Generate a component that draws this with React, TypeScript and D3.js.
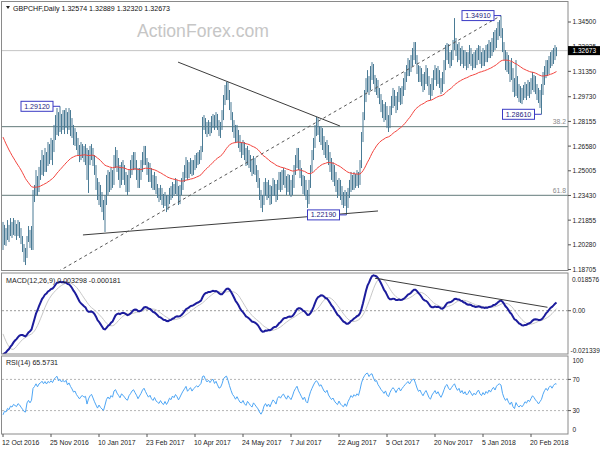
import React from "react";
import * as d3 from "d3";

// ---------- data (GBPCHF daily bars) ----------
const closes = [
1.2059,1.2110,1.2084,1.2135,1.2097,1.2148,1.2123,1.2161,1.2135,1.2110,
1.2148,1.2123,1.2072,1.2021,1.1963,1.1944,1.2059,1.2097,1.2046,1.2084,
1.2314,1.2365,1.2442,1.2391,1.2474,1.2505,1.2556,1.2518,1.2582,1.2544,
1.2620,1.2601,1.2659,1.2633,1.2729,1.2793,1.2837,1.2773,1.2824,1.2786,
1.2837,1.2812,1.2863,1.2799,1.2850,1.2799,1.2761,1.2710,1.2729,1.2671,
1.2633,1.2595,1.2633,1.2646,1.2620,1.2633,1.2493,1.2569,1.2620,1.2646,
1.2582,1.2505,1.2429,1.2346,1.2391,1.2327,1.2282,1.2237,1.2314,1.2410,
1.2454,1.2410,1.2474,1.2442,1.2569,1.2601,1.2537,1.2493,1.2442,1.2518,
1.2493,1.2454,1.2410,1.2391,1.2467,1.2505,1.2556,1.2582,1.2537,1.2493,
1.2429,1.2474,1.2518,1.2582,1.2620,1.2569,1.2518,1.2474,1.2505,1.2442,
1.2410,1.2454,1.2391,1.2365,1.2340,1.2378,1.2327,1.2301,1.2340,1.2282,
1.2314,1.2365,1.2340,1.2391,1.2365,1.2410,1.2378,1.2327,1.2365,1.2410,
1.2454,1.2493,1.2537,1.2474,1.2505,1.2537,1.2493,1.2531,1.2556,1.2582,
1.2569,1.2601,1.2633,1.2793,1.2812,1.2773,1.2748,1.2786,1.2761,1.2812,
1.2837,1.2793,1.2837,1.2799,1.2761,1.2773,1.2837,1.2952,1.3003,1.3029,
1.2984,1.2920,1.2856,1.2793,1.2761,1.2710,1.2748,1.2697,1.2646,1.2633,
1.2665,1.2601,1.2569,1.2620,1.2582,1.2537,1.2505,1.2556,1.2518,1.2474,
1.2429,1.2346,1.2282,1.2314,1.2378,1.2410,1.2346,1.2378,1.2314,1.2365,
1.2410,1.2378,1.2327,1.2410,1.2442,1.2410,1.2454,1.2474,1.2429,1.2391,
1.2442,1.2410,1.2378,1.2429,1.2505,1.2556,1.2601,1.2537,1.2493,1.2442,
1.2391,1.2429,1.2346,1.2314,1.2410,1.2505,1.2582,1.2665,1.2748,1.2793,
1.2761,1.2710,1.2748,1.2697,1.2646,1.2620,1.2665,1.2582,1.2537,1.2493,
1.2518,1.2454,1.2410,1.2378,1.2429,1.2365,1.2327,1.2301,1.2340,1.2282,
1.2346,1.2391,1.2442,1.2410,1.2454,1.2429,1.2467,1.2442,1.2537,1.2697,
1.2837,1.2952,1.3048,1.3080,1.3029,1.3131,1.3156,1.3092,1.3041,1.3067,
1.3003,1.2965,1.2920,1.2888,1.2850,1.2901,1.2824,1.2793,1.2875,1.2939,
1.2984,1.2952,1.2901,1.2965,1.3003,1.2952,1.3003,1.3048,1.3092,1.3131,
1.3175,1.3143,1.3207,1.3258,1.3271,1.3220,1.3156,1.3105,1.3131,1.3080,
1.3041,1.3092,1.3131,1.3080,1.3016,1.2990,1.3054,1.3092,1.3131,1.3080,
1.3118,1.3067,1.3029,1.3080,1.3156,1.3239,1.3271,1.3220,1.3194,1.3239,
1.3284,1.3322,1.3271,1.3233,1.3271,1.3207,1.3246,1.3194,1.3233,1.3182,
1.3207,1.3258,1.3220,1.3182,1.3220,1.3194,1.3239,1.3271,1.3220,1.3194,
1.3239,1.3207,1.3258,1.3233,1.3284,1.3258,1.3303,1.3335,1.3303,1.3367,
1.3399,1.3411,1.3399,1.3303,1.3239,1.3194,1.3220,1.3156,1.3112,1.3143,
1.3048,1.3003,1.3080,1.3016,1.2978,1.3003,1.2965,1.2990,1.3029,1.3003,
1.3041,1.3016,1.3054,1.3092,1.3067,1.3029,1.3003,1.2965,1.2990,1.3016,
1.3080,1.3131,1.3169,1.3143,1.3194,1.3220,1.3194,1.3239,1.3271,1.3267
];

const highs = [
1.2174,1.2155,1.2135,1.2186,1.2155,1.2199,1.2174,1.2199,1.2186,1.2161,
1.2186,1.2174,1.2135,1.2084,1.2033,1.2008,1.2084,1.2148,1.2123,1.2148,
1.2378,1.2410,1.2505,1.2467,1.2525,1.2569,1.2633,1.2601,1.2646,1.2620,
1.2684,1.2671,1.2710,1.2697,1.2793,1.2856,1.2901,1.2875,1.2912,1.2863,
1.2888,1.2888,1.2901,1.2875,1.2901,1.2888,1.2837,1.2793,1.2773,1.2748,
1.2710,1.2665,1.2684,1.2671,1.2659,1.2671,1.2646,1.2633,1.2659,1.2671,
1.2646,1.2601,1.2537,1.2454,1.2429,1.2410,1.2365,1.2314,1.2346,1.2474,
1.2505,1.2493,1.2518,1.2505,1.2601,1.2652,1.2633,1.2582,1.2537,1.2556,
1.2569,1.2537,1.2493,1.2474,1.2505,1.2569,1.2601,1.2620,1.2620,1.2569,
1.2518,1.2518,1.2569,1.2620,1.2659,1.2659,1.2582,1.2556,1.2550,1.2518,
1.2474,1.2493,1.2467,1.2416,1.2391,1.2410,1.2391,1.2352,1.2365,1.2346,
1.2346,1.2391,1.2403,1.2429,1.2416,1.2454,1.2442,1.2403,1.2410,1.2454,
1.2493,1.2537,1.2588,1.2569,1.2556,1.2582,1.2569,1.2569,1.2601,1.2614,
1.2620,1.2633,1.2659,1.2844,1.2856,1.2837,1.2812,1.2824,1.2812,1.2850,
1.2863,1.2856,1.2875,1.2863,1.2824,1.2812,1.2888,1.2984,1.3048,1.3067,
1.3067,1.3016,1.2939,1.2875,1.2824,1.2793,1.2793,1.2761,1.2729,1.2684,
1.2697,1.2684,1.2646,1.2659,1.2633,1.2601,1.2569,1.2595,1.2582,1.2537,
1.2505,1.2454,1.2378,1.2346,1.2429,1.2454,1.2429,1.2442,1.2410,1.2403,
1.2454,1.2442,1.2416,1.2442,1.2493,1.2493,1.2505,1.2518,1.2505,1.2467,
1.2480,1.2474,1.2442,1.2474,1.2537,1.2601,1.2646,1.2646,1.2569,1.2518,
1.2474,1.2467,1.2442,1.2378,1.2442,1.2537,1.2633,1.2710,1.2793,1.2844,
1.2837,1.2786,1.2786,1.2773,1.2722,1.2684,1.2697,1.2665,1.2620,1.2582,
1.2556,1.2537,1.2493,1.2442,1.2454,1.2442,1.2403,1.2365,1.2378,1.2365,
1.2391,1.2442,1.2493,1.2474,1.2493,1.2480,1.2505,1.2493,1.2569,1.2748,
1.2875,1.3016,1.3092,1.3143,1.3105,1.3169,1.3194,1.3182,1.3112,1.3092,
1.3080,1.3029,1.2990,1.2952,1.2926,1.2939,1.2914,1.2856,1.2914,1.2978,
1.3029,1.3016,1.2978,1.3003,1.3041,1.3029,1.3041,1.3092,1.3131,1.3175,
1.3220,1.3207,1.3239,1.3284,1.3322,1.3322,1.3239,1.3175,1.3169,1.3156,
1.3118,1.3131,1.3175,1.3156,1.3105,1.3054,1.3092,1.3143,1.3175,1.3156,
1.3169,1.3143,1.3092,1.3131,1.3207,1.3303,1.3316,1.3309,1.3258,1.3271,
1.3335,1.3475,1.3348,1.3309,1.3322,1.3284,1.3297,1.3271,1.3271,1.3258,
1.3258,1.3303,1.3284,1.3246,1.3258,1.3271,1.3284,1.3303,1.3297,1.3258,
1.3284,1.3271,1.3303,1.3309,1.3335,1.3322,1.3348,1.3386,1.3399,1.3411,
1.3450,1.3462,1.3491,1.3411,1.3322,1.3271,1.3258,1.3239,1.3194,1.3220,
1.3156,1.3092,1.3207,1.3105,1.3054,1.3041,1.3029,1.3048,1.3067,1.3054,
1.3080,1.3067,1.3092,1.3131,1.3112,1.3105,1.3054,1.3029,1.3016,1.3054,
1.3131,1.3169,1.3207,1.3207,1.3233,1.3258,1.3271,1.3284,1.3303,1.3289
];

const lows = [
1.1995,1.2027,1.2021,1.2059,1.2046,1.2084,1.2072,1.2091,1.2084,1.2059,
1.2084,1.2072,1.2033,1.1982,1.1918,1.1899,1.1944,1.2046,1.2008,1.1995,
1.1995,1.2301,1.2346,1.2340,1.2365,1.2442,1.2474,1.2467,1.2493,1.2493,
1.2531,1.2544,1.2569,1.2537,1.2620,1.2697,1.2729,1.2722,1.2748,1.2735,
1.2761,1.2735,1.2773,1.2735,1.2761,1.2722,1.2710,1.2665,1.2659,1.2633,
1.2595,1.2556,1.2569,1.2582,1.2556,1.2537,1.2442,1.2359,1.2537,1.2569,
1.2531,1.2474,1.2378,1.2314,1.2282,1.2269,1.2237,1.2186,1.2110,1.2282,
1.2346,1.2365,1.2378,1.2391,1.2410,1.2518,1.2493,1.2442,1.2391,1.2410,
1.2442,1.2410,1.2365,1.2346,1.2365,1.2454,1.2474,1.2505,1.2505,1.2442,
1.2391,1.2391,1.2442,1.2493,1.2537,1.2537,1.2474,1.2429,1.2429,1.2391,
1.2378,1.2378,1.2352,1.2327,1.2301,1.2314,1.2282,1.2263,1.2276,1.2237,
1.2250,1.2288,1.2314,1.2327,1.2340,1.2352,1.2340,1.2282,1.2288,1.2346,
1.2378,1.2429,1.2454,1.2442,1.2454,1.2480,1.2467,1.2474,1.2505,1.2518,
1.2537,1.2544,1.2569,1.2620,1.2761,1.2735,1.2716,1.2735,1.2722,1.2741,
1.2773,1.2761,1.2773,1.2761,1.2722,1.2710,1.2761,1.2824,1.2920,1.2952,
1.2952,1.2888,1.2824,1.2748,1.2710,1.2678,1.2684,1.2646,1.2620,1.2582,
1.2601,1.2569,1.2531,1.2537,1.2518,1.2493,1.2467,1.2480,1.2474,1.2429,
1.2391,1.2314,1.2263,1.2237,1.2282,1.2340,1.2314,1.2327,1.2282,1.2288,
1.2340,1.2340,1.2301,1.2314,1.2378,1.2365,1.2378,1.2410,1.2391,1.2346,
1.2365,1.2346,1.2333,1.2346,1.2391,1.2474,1.2518,1.2505,1.2454,1.2403,
1.2352,1.2340,1.2314,1.2263,1.2288,1.2391,1.2493,1.2569,1.2646,1.2722,
1.2729,1.2684,1.2665,1.2633,1.2601,1.2582,1.2569,1.2537,1.2493,1.2442,
1.2429,1.2403,1.2365,1.2327,1.2346,1.2314,1.2282,1.2263,1.2276,1.2219,
1.2263,1.2327,1.2365,1.2378,1.2378,1.2391,1.2403,1.2391,1.2410,1.2518,
1.2684,1.2824,1.2939,1.3003,1.2984,1.3016,1.3080,1.3054,1.3003,1.2984,
1.2965,1.2926,1.2875,1.2837,1.2812,1.2824,1.2773,1.2748,1.2773,1.2856,
1.2901,1.2914,1.2869,1.2888,1.2939,1.2920,1.2926,1.2978,1.3016,1.3067,
1.3105,1.3105,1.3131,1.3169,1.3207,1.3182,1.3118,1.3067,1.3067,1.3041,
1.3003,1.3016,1.3054,1.3041,1.2984,1.2952,1.2978,1.3016,1.3080,1.3041,
1.3054,1.3029,1.2990,1.3003,1.3054,1.3143,1.3207,1.3182,1.3156,1.3169,
1.3207,1.3271,1.3233,1.3194,1.3207,1.3169,1.3182,1.3156,1.3169,1.3143,
1.3156,1.3182,1.3169,1.3143,1.3156,1.3156,1.3175,1.3207,1.3182,1.3156,
1.3169,1.3169,1.3194,1.3194,1.3220,1.3220,1.3233,1.3258,1.3271,1.3284,
1.3335,1.3360,1.3348,1.3258,1.3207,1.3143,1.3131,1.3118,1.3067,1.3080,
1.3003,1.2971,1.2978,1.2965,1.2939,1.2933,1.2926,1.2952,1.2965,1.2952,
1.2978,1.2965,1.2990,1.3016,1.3003,1.2990,1.2952,1.2933,1.2901,1.2861,
1.2984,1.3048,1.3092,1.3105,1.3118,1.3156,1.3169,1.3182,1.3207,1.3232
];

// indicator states before the first visible bar (estimated from the starting levels)
const ema55Seed = 1.2740;
const ema12Seed = 1.2280;
const ema26Seed = 1.2493;
const macdPrior = [-0.0040, -0.0050, -0.0062, -0.0080, -0.0100, -0.0128, -0.0160, -0.0195];
const rsiSeedGain = 0.0016;
const rsiSeedLoss = 0.0046;
const rsiSeedPrevClose = 1.2100;

const dateTickIndex = [0, 32, 64, 96, 128, 160, 192, 224, 256, 288, 320, 352];
const dateLabels = ["12 Oct 2016", "25 Nov 2016", "10 Jan 2017", "23 Feb 2017", "10 Apr 2017", "24 May 2017",
  "7 Jul 2017", "22 Aug 2017", "5 Oct 2017", "20 Nov 2017", "5 Jan 2018", "20 Feb 2018"];

const priceTicks = [1.345, 1.32925, 1.3135, 1.2973, 1.28155, 1.2658, 1.25005, 1.2343, 1.21855, 1.2028, 1.18705];
const macdTop = 0.018576;
const macdBottom = -0.021339;
const rsiLevels = [70, 30];
const rsiTickLabels = [100, 70, 30, 0];

const lastPrice = 1.32673;
const titleValues = ["1.32574", "1.32889", "1.32320", "1.32673"];

const pivotLabels = [
  { i: 38, price: 1.2912 },
  { i: 229, price: 1.2219 },
  { i: 332, price: 1.3491 },
  { i: 359, price: 1.2861 },
];
const fibHigh = 1.3491;
const fibLow = 1.1635;
const fibLevels = [0.382, 0.618];
const trendResistance: [number, number][] = [[116.7, 1.3194], [224.7, 1.2786]];
const trendSupport: [number, number][] = [[53.3, 1.2091], [250, 1.2244]];
const trendDashed: [number, number][] = [[30, 1.1820], [332, 1.3491]];
const macdTrend: [number, number][] = [[248, 0.0160], [363, 0.00168]];

// ---------- helpers ----------
function emaSeries(vals: number[], period: number, seed: number) {
  const k = 2 / (period + 1);
  let e = seed;
  return vals.map((v) => (e = e + (v - e) * k));
}

const FONT = "'Liberation Sans', Arial, sans-serif";

export default function App() {
  const n = closes.length;
  const X0 = 3;
  const AX = 568;
  const x = d3.scaleLinear().domain([0, n - 1]).range([X0, X0 + 1.5 * (n - 1)]);
  const yP = d3.scaleLinear().domain([1.18705, 1.345]).range([269.5, 22]);
  const yM = d3.scaleLinear().domain([macdBottom, macdTop]).range([354, 273]);
  const yR = d3.scaleLinear().domain([0, 100]).range([434, 356]);

  const ma55 = emaSeries(closes, 55, ema55Seed);
  const e12 = emaSeries(closes, 12, ema12Seed);
  const e26 = emaSeries(closes, 26, ema26Seed);
  const macd = closes.map((_, i) => e12[i] - e26[i]);
  const macdAll = [...macdPrior, ...macd];
  const signal = macd.map((_, i) => d3.mean(macdAll.slice(i, i + 9)) as number);
  let ag = rsiSeedGain, al = rsiSeedLoss, prev = rsiSeedPrevClose;
  const rsi = closes.map((c) => {
    const ch = c - prev;
    prev = c;
    ag = (ag * 13 + Math.max(ch, 0)) / 14;
    al = (al * 13 + Math.max(-ch, 0)) / 14;
    return al === 0 ? 100 : 100 - 100 / (1 + ag / al);
  });

  const lineOf = (yS: d3.ScaleLinear<number, number>) =>
    d3.line<number>().x((_, i) => x(i)).y((d) => yS(d));

  const segPath = (pts: [number, number][], yS: d3.ScaleLinear<number, number>) =>
    d3.line<[number, number]>().x((d) => x(d[0])).y((d) => yS(d[1]))(pts) as string;

  const txt = { fontFamily: FONT, fontSize: 7.1, fill: "#222" } as const;
  const axisTxt = { fontFamily: FONT, fontSize: 6.5, fill: "#222" } as const;
  const dateTxt = { fontFamily: FONT, fontSize: 6.85, fill: "#222" } as const;
  const borderColor = "#8a8a8a";

  return (
    <svg width={600} height={450} style={{ position: "absolute", left: 0, top: 0, background: "#fff" }}>
      <defs>
        <clipPath id="cMain"><rect x={2} y={2} width={AX - 2} height={268.5} /></clipPath>
        <clipPath id="cMacd"><rect x={2} y={273} width={AX - 2} height={81} /></clipPath>
        <clipPath id="cRsi"><rect x={2} y={356} width={AX - 2} height={78} /></clipPath>
      </defs>
      <rect x={0} y={0} width={600} height={450} fill="#fff" />

      {/* ---------- main panel ---------- */}
      <text x={137} y={37.3} fontFamily={FONT} fontSize={17.6} fill="#c6c6c6">ActionForex.com</text>
      <g clipPath="url(#cMain)">
        {/* current price line */}
        <line x1={2} x2={AX} y1={yP(lastPrice)} y2={yP(lastPrice)} stroke="#c4c4c4" />
        {/* fibonacci levels */}
        {fibLevels.map((lv) => {
          const p = fibHigh - lv * (fibHigh - fibLow);
          return (
            <g key={lv}>
              <line x1={2} x2={AX} y1={yP(p)} y2={yP(p)} stroke="#637b7b" />
              <text x={566} y={yP(p) - 2.5} textAnchor="end" fontFamily={FONT} fontSize={6.8} fill="#8a8a8a">{(lv * 100).toFixed(1)}</text>
            </g>
          );
        })}
        {/* bars */}
        {closes.map((_, i) => (
          <line key={i} x1={x(i)} x2={x(i)} y1={yP(highs[i])} y2={yP(lows[i])} stroke="#4a7b95" strokeWidth={1} />
        ))}
        {/* EMA */}
        <path d={lineOf(yP)(ma55) as string} fill="none" stroke="#f2453f" strokeWidth={1} />
        {/* trendlines */}
        <path d={segPath(trendResistance, yP)} stroke="#3c3c3c" fill="none" />
        <path d={segPath(trendSupport, yP)} stroke="#3c3c3c" fill="none" />
        <path d={segPath(trendDashed, yP)} stroke="#555" strokeDasharray="3,3" fill="none" />
        {/* pivot labels */}
        {pivotLabels.map((p) => {
          const px = x(p.i);
          const py = yP(p.price);
          return (
            <g key={p.i}>
              <line x1={px - 7} x2={px} y1={py} y2={py} stroke="#3b3bc4" />
              <rect x={px - 39} y={py - 5} width={32} height={10} fill="#fff" stroke="#3b3bc4" />
              <text x={px - 23} y={py + 2.6} textAnchor="middle" fontFamily={FONT} fontSize={7.1} fill="#1c1c80">{p.price.toFixed(5)}</text>
            </g>
          );
        })}
      </g>
      <rect x={1.5} y={1.5} width={AX - 1.5} height={269} fill="none" stroke={borderColor} />
      {/* title */}
      <path d="M6,6 L10,6 L8,9 Z" fill="#222" />
      <text x={13} y={10.5} {...txt} fill="#111">{`GBPCHF,Daily  ${titleValues.join(" ")}`}</text>
      {/* price axis */}
      {priceTicks.map((v) => (
        <g key={v}>
          <line x1={AX} x2={AX + 3} y1={yP(v)} y2={yP(v)} stroke="#555" />
          <text x={AX + 4.5} y={yP(v) + 2.4} {...axisTxt}>{v.toFixed(5)}</text>
        </g>
      ))}
      <rect x={AX} y={yP(lastPrice) - 4.5} width={32} height={9} fill="#000" />
      <text x={AX + 4.5} y={yP(lastPrice) + 2.4} {...axisTxt} fill="#fff">{lastPrice.toFixed(5)}</text>

      {/* ---------- MACD panel ---------- */}
      <g clipPath="url(#cMacd)">
        <line x1={2} x2={AX} y1={yM(0)} y2={yM(0)} stroke="#9a9a9a" strokeDasharray="2,2" />
        <path d={lineOf(yM)(signal) as string} fill="none" stroke="#c8c8c8" strokeWidth={1} />
        <path d={lineOf(yM)(macd) as string} fill="none" stroke="#1c1c9c" strokeWidth={2} />
        <path d={segPath(macdTrend, yM)} stroke="#3c3c3c" fill="none" />
      </g>
      <rect x={1.5} y={273} width={AX - 1.5} height={81} fill="none" stroke={borderColor} />
      <text x={6} y={282.5} {...txt}>MACD(12,26,9) 0.003298 -0.000181</text>
      <line x1={AX} x2={AX + 3} y1={yM(0)} y2={yM(0)} stroke="#555" />
      <text x={AX + 4} y={yM(macdTop) + 8.5} {...axisTxt}>{macdTop.toFixed(6)}</text>
      <text x={AX + 4.5} y={yM(0) + 2.4} {...axisTxt}>0.00</text>
      <text x={AX + 2.5} y={yM(macdBottom) - 1.5} {...axisTxt}>{macdBottom.toFixed(6)}</text>

      {/* ---------- RSI panel ---------- */}
      <g clipPath="url(#cRsi)">
        {rsiLevels.map((lv) => (
          <line key={lv} x1={2} x2={AX} y1={yR(lv)} y2={yR(lv)} stroke="#b4b4b4" strokeDasharray="2,2" />
        ))}
        <path d={lineOf(yR)(rsi) as string} fill="none" stroke="#4ea6f5" strokeWidth={1} />
      </g>
      <rect x={1.5} y={356} width={AX - 1.5} height={78} fill="none" stroke={borderColor} />
      <text x={6} y={365} {...txt}>RSI(14) 65.5731</text>
      {rsiTickLabels.map((v) => {
        const yy = v === 100 ? yR(v) + 7 : v === 0 ? yR(v) - 2.5 : yR(v) + 2.4;
        return (
          <g key={v}>
            {v !== 100 && v !== 0 && <line x1={AX} x2={AX + 3} y1={yR(v)} y2={yR(v)} stroke="#555" />}
            <text x={AX + 4.5} y={yy} {...axisTxt}>{v}</text>
          </g>
        );
      })}

      {/* ---------- date axis ---------- */}
      {dateTickIndex.map((di, k) => (
        <g key={di}>
          <line x1={x(di)} x2={x(di)} y1={434} y2={437} stroke="#555" />
          <text x={x(di) - 1} y={444.5} {...dateTxt}>{dateLabels[k]}</text>
        </g>
      ))}
    </svg>
  );
}
